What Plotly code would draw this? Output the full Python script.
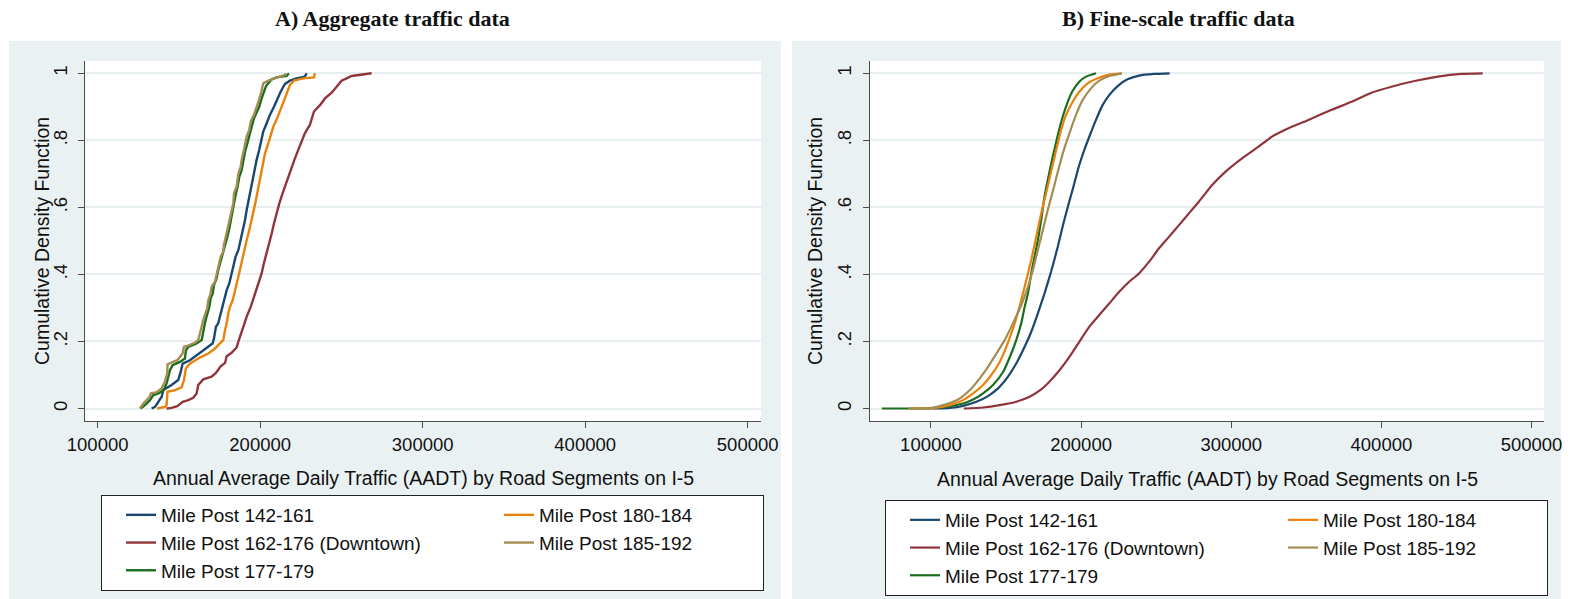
import plotly.graph_objects as go

# ---------------------------------------------------------------- data
SERIES = [
    "Mile Post 142-161",
    "Mile Post 162-176 (Downtown)",
    "Mile Post 177-179",
    "Mile Post 180-184",
    "Mile Post 185-192",
]
COLORS = ["#1A476F", "#90353B", "#1B6E1E", "#E8820C", "#A38D52"]
LEGEND_COLUMN = ["c1", "c1", "c1", "c2", "c2"]

X_TICKS = [100000, 200000, 300000, 400000, 500000]
X_TICK_TEXT = ["100000", "200000", "300000", "400000", "500000"]
Y_TICKS = [0, 0.2, 0.4, 0.6, 0.8, 1.0]
Y_TICK_TEXT = ["0", ".2", ".4", ".6", ".8", "1"]

# A) Aggregate traffic data: empirical CDF points (AADT, cumulative share)
agg_142_x = [133200, 135300, 139400, 140400, 145500, 149600, 151100, 152300, 156800, 165000,
             170700, 171600, 172800, 174200, 175700, 176900, 178400, 179400, 181000, 182400,
             183900, 184900, 186600, 188000, 189200, 190700, 191700, 192900, 194200, 195400,
             196800, 197800, 199400, 200700, 201900, 204000, 206000, 208500, 210600, 212600,
             215200, 218300, 222400, 227500, 228600]
agg_142_y = [0, 0.005, 0.035, 0.055, 0.070, 0.085, 0.109, 0.134, 0.144, 0.174,
             0.194, 0.209, 0.244, 0.254, 0.284, 0.308, 0.333, 0.353, 0.373, 0.403,
             0.428, 0.453, 0.473, 0.502, 0.532, 0.562, 0.592, 0.622, 0.652, 0.682,
             0.711, 0.741, 0.771, 0.801, 0.826, 0.851, 0.876, 0.900, 0.925, 0.945,
             0.968, 0.978, 0.985, 0.990, 1.0]

agg_162_x = [142400, 145500, 149000, 152300, 155800, 158800, 160900, 161900, 165000, 170100,
             172800, 175700, 178400, 179400, 182400, 185500, 186900, 188600, 190700, 192100,
             194200, 195800, 197800, 199400, 200900, 202300, 204000, 205600, 207100, 208500,
             210100, 211800, 213800, 215900, 217900, 219300, 221400, 223400, 225500, 227500,
             230600, 233100, 236800, 239900, 244000, 247000, 250100, 253200, 256300, 268600]
agg_162_y = [0, 0.002, 0.007, 0.020, 0.025, 0.032, 0.045, 0.070, 0.087, 0.095,
             0.106, 0.126, 0.136, 0.156, 0.166, 0.182, 0.204, 0.229, 0.254, 0.279,
             0.303, 0.328, 0.353, 0.378, 0.403, 0.433, 0.463, 0.493, 0.522, 0.552,
             0.582, 0.612, 0.642, 0.672, 0.697, 0.721, 0.746, 0.771, 0.796, 0.821,
             0.846, 0.886, 0.905, 0.925, 0.942, 0.960, 0.978, 0.985, 0.992, 1.0]

agg_177_x = [126400, 129100, 132200, 134200, 137400, 140800, 142400, 144500, 146100, 150600,
             153700, 154300, 155800, 160900, 164000, 165000, 166000, 167000, 168700, 169500,
             170800, 171600, 173200, 174200, 175700, 176900, 178400, 179800, 181000, 181900,
             183100, 184100, 184900, 186100, 187200, 188600, 189600, 190700, 192100, 193300,
             194800, 196200, 197800, 199400, 200900, 202300, 203600, 207100, 210100, 216300,
             217700]
agg_177_y = [0, 0.010, 0.025, 0.040, 0.045, 0.055, 0.075, 0.114, 0.129, 0.139,
             0.149, 0.174, 0.184, 0.194, 0.204, 0.234, 0.254, 0.274, 0.303, 0.328,
             0.343, 0.368, 0.388, 0.413, 0.438, 0.463, 0.483, 0.512, 0.537, 0.562,
             0.587, 0.612, 0.637, 0.662, 0.692, 0.711, 0.741, 0.766, 0.791, 0.816,
             0.841, 0.866, 0.881, 0.900, 0.925, 0.945, 0.962, 0.982, 0.988, 0.992,
             1.0]

agg_180_x = [136700, 141400, 142400, 143000, 147600, 151700, 153100, 154300, 156800, 162900,
             168100, 172200, 175200, 177300, 178400, 179400, 180400, 181400, 183100, 183900,
             185100, 186600, 188000, 189200, 190000, 191700, 193300, 194800, 195800, 197000,
             198200, 199400, 200300, 201900, 203000, 205000, 206500, 208100, 210100, 211800,
             213200, 215200, 216700, 218300, 220800, 226500, 233100, 233700]
agg_180_y = [0, 0.005, 0.010, 0.050, 0.055, 0.063, 0.085, 0.119, 0.134, 0.152,
             0.164, 0.179, 0.194, 0.204, 0.234, 0.254, 0.284, 0.303, 0.323, 0.343,
             0.363, 0.393, 0.423, 0.448, 0.473, 0.502, 0.532, 0.562, 0.587, 0.612,
             0.642, 0.672, 0.701, 0.731, 0.761, 0.791, 0.816, 0.841, 0.861, 0.881,
             0.900, 0.925, 0.945, 0.965, 0.978, 0.985, 0.988, 1.0]

agg_185_x = [126000, 128100, 131800, 132800, 135900, 139400, 141400, 142800, 143000, 146500,
             149000, 152300, 153100, 155200, 159900, 161900, 162900, 164000, 165000, 167400,
             168100, 169500, 170100, 172200, 173200, 174800, 175700, 177300, 177700, 179400,
             180400, 181000, 182400, 183500, 183900, 185500, 186600, 188000, 188600, 190000,
             190700, 191700, 193300, 194200, 196200, 197800, 198900, 200500, 201500, 201900,
             205000, 207700, 215200, 215900]
agg_185_y = [0, 0.015, 0.033, 0.045, 0.048, 0.060, 0.080, 0.104, 0.132, 0.139,
             0.144, 0.164, 0.184, 0.187, 0.196, 0.204, 0.224, 0.244, 0.264, 0.299,
             0.323, 0.343, 0.363, 0.378, 0.403, 0.433, 0.453, 0.468, 0.488, 0.522,
             0.542, 0.562, 0.582, 0.612, 0.642, 0.662, 0.701, 0.721, 0.741, 0.771,
             0.791, 0.811, 0.831, 0.856, 0.876, 0.896, 0.915, 0.940, 0.960, 0.970,
             0.978, 0.982, 0.995, 1.0]

# B) Fine-scale traffic data: smooth empirical CDFs
fine_142_x = [101500, 112600, 121400, 130300, 138000, 144700, 151300, 156800, 162400, 166800,
              171200, 175600, 180000, 184500, 188200, 191800, 194900, 198400, 202100, 205900,
              209900, 214300, 218700, 224300, 230900, 238600, 248600, 259000]
fine_142_y = [0, 0.002, 0.008, 0.020, 0.037, 0.060, 0.095, 0.134, 0.184, 0.229,
              0.284, 0.343, 0.408, 0.483, 0.552, 0.612, 0.662, 0.721, 0.771, 0.816,
              0.861, 0.905, 0.935, 0.962, 0.982, 0.993, 0.998, 1.0]

fine_162_x = [121900, 134700, 145800, 156800, 165700, 172300, 178900, 185600, 192200, 198800,
              205500, 212100, 218700, 225400, 232000, 238600, 245300, 251900, 258500, 265200,
              271800, 278400, 287300, 296100, 307200, 318200, 327100, 338100, 351400, 366900,
              380100, 393400, 406700, 422100, 437600, 453100, 467500]
fine_162_y = [0, 0.003, 0.010, 0.020, 0.035, 0.053, 0.080, 0.114, 0.154, 0.199,
              0.244, 0.279, 0.313, 0.348, 0.378, 0.403, 0.438, 0.478, 0.512, 0.547,
              0.582, 0.617, 0.667, 0.706, 0.746, 0.781, 0.811, 0.836, 0.861, 0.891,
              0.915, 0.942, 0.960, 0.977, 0.990, 0.998, 1.0]

fine_177_x = [67300, 83900, 101500, 112600, 121400, 128100, 134700, 141300, 148000, 153500,
              156800, 160100, 162400, 164600, 166800, 169000, 171200, 173400, 175600, 177800,
              181100, 184500, 187800, 191100, 194400, 198800, 203300, 209900]
fine_177_y = [0, 0, 0.001, 0.007, 0.015, 0.027, 0.045, 0.070, 0.109, 0.164,
              0.204, 0.254, 0.303, 0.343, 0.403, 0.453, 0.502, 0.562, 0.632, 0.682,
              0.751, 0.816, 0.871, 0.915, 0.948, 0.975, 0.990, 1.0]

fine_180_x = [86100, 101500, 112600, 121400, 128100, 134700, 140200, 145800, 150200, 153500,
              156800, 160100, 163500, 166800, 170100, 173400, 176700, 180000, 183400, 186700,
              190000, 194400, 198800, 204400, 211000, 218700, 227100]
fine_180_y = [0, 0.001, 0.010, 0.025, 0.045, 0.070, 0.100, 0.139, 0.184, 0.224,
              0.269, 0.323, 0.383, 0.443, 0.512, 0.582, 0.642, 0.706, 0.771, 0.831,
              0.876, 0.915, 0.945, 0.970, 0.985, 0.996, 1.0]

fine_185_x = [85000, 99300, 110400, 119200, 125900, 132500, 138000, 143600, 149100, 154600,
              160100, 164600, 167900, 171200, 174500, 177800, 181100, 184500, 187800, 192200,
              196600, 201000, 206600, 212100, 218700, 227100]
fine_185_y = [0, 0.001, 0.013, 0.030, 0.055, 0.090, 0.124, 0.164, 0.204, 0.254,
              0.308, 0.363, 0.413, 0.473, 0.532, 0.592, 0.647, 0.706, 0.761, 0.821,
              0.876, 0.920, 0.955, 0.978, 0.992, 1.0]

AGGREGATE = [(agg_142_x, agg_142_y), (agg_162_x, agg_162_y), (agg_177_x, agg_177_y),
             (agg_180_x, agg_180_y), (agg_185_x, agg_185_y)]
FINE = [(fine_142_x, fine_142_y), (fine_162_x, fine_162_y), (fine_177_x, fine_177_y),
        (fine_180_x, fine_180_y), (fine_185_x, fine_185_y)]

# ---------------------------------------------------------------- layout geometry
W, H = 1571, 599
SANS = "Liberation Sans, Arial, sans-serif"
SERIF = "Liberation Serif, Times New Roman, serif"
PANEL_BG = "#EAF1F3"
GRID = "#E6EEF0"
AXIS = "#4D4D4D"


def px(x):
    return x / W


def py(y):
    return 1 - y / H


fig = go.Figure()

for i, name in enumerate(SERIES):
    x, y = AGGREGATE[i]
    fig.add_trace(go.Scatter(
        x=x, y=y, mode="lines", name=name,
        line=dict(color=COLORS[i], width=2.4),
        xaxis="x", yaxis="y", legend="legend",
        legendgroup="a" + LEGEND_COLUMN[i],
        legendwidth=313 if LEGEND_COLUMN[i] == "c1" else 219,
    ))

for i, name in enumerate(SERIES):
    x, y = FINE[i]
    fig.add_trace(go.Scatter(
        x=x, y=y, mode="lines", name=name,
        line=dict(color=COLORS[i], width=2.2, shape="spline", smoothing=0.5),
        xaxis="x2", yaxis="y2", legend="legend2",
        legendgroup="b" + LEGEND_COLUMN[i],
        legendwidth=313 if LEGEND_COLUMN[i] == "c1" else 219,
    ))

x_common = dict(
    tickvals=X_TICKS, ticktext=X_TICK_TEXT, ticks="outside", ticklen=6,
    tickcolor=AXIS, tickwidth=1.2, showline=True, linecolor=AXIS, linewidth=1.3,
    showgrid=False, zeroline=False, tickfont=dict(family=SANS, size=18.5, color="#111"),
    ticklabelstandoff=1, automargin=False,
)
y_common = dict(
    tickvals=Y_TICKS, ticktext=Y_TICK_TEXT, ticks="outside", ticklen=6,
    tickcolor=AXIS, tickwidth=1.2, showline=True, linecolor=AXIS, linewidth=1.3,
    showgrid=True, gridcolor=GRID, gridwidth=2, zeroline=False,
    tickangle=-90, tickfont=dict(family=SANS, size=18.5, color="#111"),
    range=[-0.0373, 1.0367], ticklabelstandoff=4, automargin=False,
)

legend_common = dict(
    orientation="h", traceorder="grouped", xanchor="left", yanchor="top",
    bgcolor="white", bordercolor="#222", borderwidth=1,
    font=dict(family=SANS, size=19, color="#111"), indentation=20,
    itemclick=False, itemdoubleclick=False,
)

fig.update_layout(
    width=W, height=H,
    margin=dict(l=0, r=0, t=0, b=0, autoexpand=False),
    paper_bgcolor="white", plot_bgcolor="white",
    showlegend=True,
    xaxis=dict(domain=[px(85.3), px(761)], range=[92400, 508200], anchor="y", **x_common),
    yaxis=dict(domain=[py(421), py(61)], anchor="x", **y_common),
    xaxis2=dict(domain=[px(870), px(1544)], range=[59400, 508300], anchor="y2", **x_common),
    yaxis2=dict(domain=[py(421), py(61)], anchor="x2", **y_common),
    legend=dict(x=px(101), y=py(495), **legend_common),
    legend2=dict(x=px(885), y=py(500), **legend_common),
    shapes=[
        # graph regions
        dict(type="rect", xref="paper", yref="paper", x0=px(9), x1=px(781), y0=0, y1=py(41),
             fillcolor=PANEL_BG, line=dict(width=0), layer="below"),
        dict(type="rect", xref="paper", yref="paper", x0=px(792), x1=px(1561), y0=0, y1=py(41),
             fillcolor=PANEL_BG, line=dict(width=0), layer="below"),
        # white plot regions
        dict(type="rect", xref="x domain", yref="y domain", x0=0, x1=1, y0=0, y1=1,
             fillcolor="white", line=dict(width=0), layer="below"),
        dict(type="rect", xref="x2 domain", yref="y2 domain", x0=0, x1=1, y0=0, y1=1,
             fillcolor="white", line=dict(width=0), layer="below"),
    ],
)

title_font = dict(family=SERIF, size=22, color="#111")
label_font = dict(family=SANS, size=19.5, color="#111")
annotations = [
    dict(text="<b>A) Aggregate traffic data</b>", x=px(392), y=py(19), font=title_font),
    dict(text="<b>B) Fine-scale traffic data</b>", x=px(1178), y=py(19), font=title_font),
    dict(text="Annual Average Daily Traffic (AADT) by Road Segments on I-5",
         x=px(423), y=py(478), font=label_font),
    dict(text="Annual Average Daily Traffic (AADT) by Road Segments on I-5",
         x=px(1207), y=py(479), font=label_font),
    dict(text="Cumulative Density Function", x=px(42), y=py(241), textangle=-90, font=label_font),
    dict(text="Cumulative Density Function", x=px(815), y=py(241), textangle=-90, font=label_font),
]
for a in annotations:
    fig.add_annotation(xref="paper", yref="paper", showarrow=False,
                       xanchor="center", yanchor="middle", **a)

fig.write_html("out.html")
